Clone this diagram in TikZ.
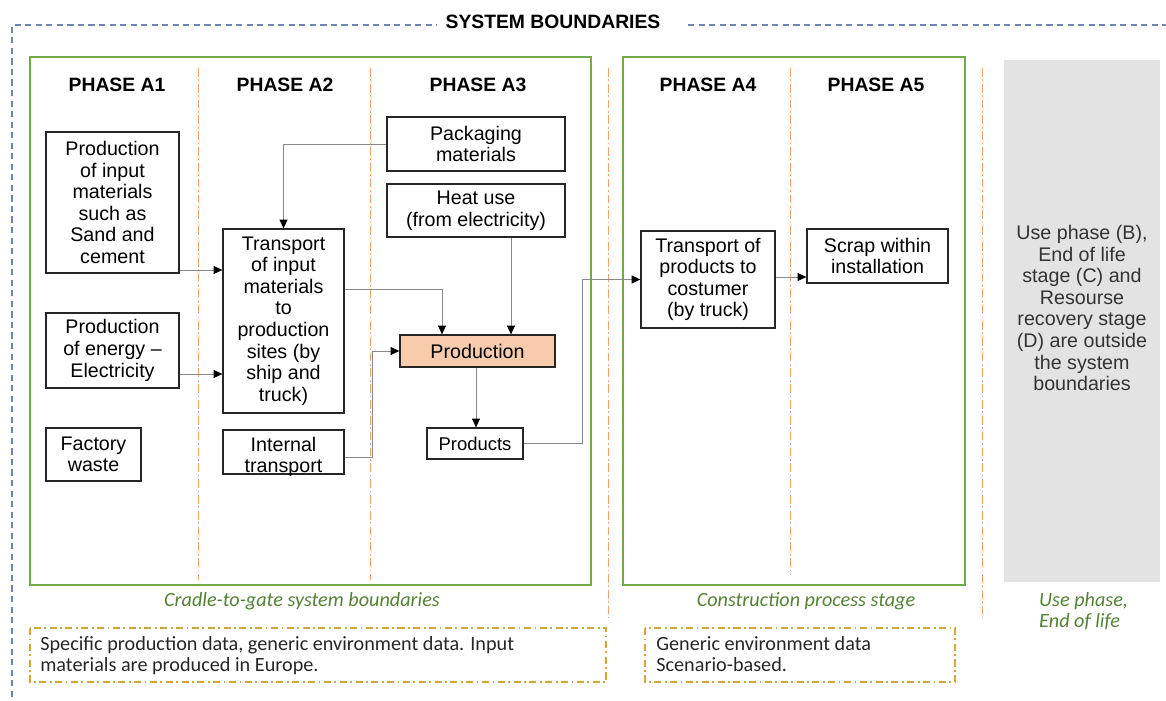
\documentclass[tikz,border=0pt]{standalone}
\usepackage{fontspec}
\setmainfont{Liberation Sans}
\newfontfamily\calib{Carlito}
\usetikzlibrary{arrows.meta}
\definecolor{gborder}{HTML}{70AD47}
\definecolor{gtext}{HTML}{548235}
\definecolor{odash}{HTML}{F4A26B}
\definecolor{bdash}{HTML}{6F86B5}
\definecolor{goldc}{HTML}{D4A637}
\definecolor{peach}{HTML}{F8CBAD}
\definecolor{greybg}{HTML}{E3E3E3}
\definecolor{lineg}{HTML}{8A8A8A}
\tikzset{
  x=0.02cm, y=-0.02cm,
  boxfont/.style={font=\fontsize{11.2}{12.3}\selectfont},
  box/.style={draw=black!85, line width=0.7pt, inner sep=0pt, align=center, boxfont},
  phase/.style={font=\fontsize{11}{13}\selectfont\bfseries},
  conn/.style={draw=lineg, line width=0.55pt, -{Triangle[color=black,length=5pt,width=4.5pt]}},
  sep/.style={draw=odash, line width=0.5pt, dash pattern=on 5pt off 1.5pt on 1pt off 1.5pt},
  greenbox/.style={draw=gborder, line width=1.2pt},
  captext/.style={font=\calib\itshape\fontsize{11.5}{12.2}\selectfont, text=gtext},
  notebox/.style={draw=goldc, line width=0.8pt, dash pattern=on 4pt off 2pt on 1pt off 2pt},
  notetext/.style={font=\calib\fontsize{11.5}{12}\selectfont, align=left, anchor=north west, inner sep=0pt, text=black!85}
}
\begin{document}
\begin{tikzpicture}
\useasboundingbox (0,0) rectangle (1166,700);
% outer system boundary
\draw[bdash, line width=0.7pt, dash pattern=on 3.5pt off 2.5pt] (12,697) -- (12,25) -- (437,25);
\draw[bdash, line width=0.7pt, dash pattern=on 3.5pt off 2.5pt] (688,25) -- (1166,25);
\node[font=\fontsize{11}{13}\selectfont\bfseries] (title) at (553,22) {SYSTEM BOUNDARIES};
% grey box
\fill[greybg] (1004,60) rectangle (1160,582);
% green frames
\draw[greenbox] (30,57) rectangle (591,585);
\draw[greenbox] (623,57) rectangle (965,585);
% separators
\draw[sep] (198,68) -- (198,580);
\draw[sep] (370,68) -- (370,580);
\draw[sep] (608,68) -- (608,618);
\draw[sep] (790,68) -- (790,575);
\draw[sep] (982,68) -- (982,618);
% phase titles
\node[phase] (pa1) at (117,85) {PHASE A1};
\node[phase] (pa2) at (285,85) {PHASE A2};
\node[phase] (pa3) at (478,85) {PHASE A3};
\node[phase] (pa4) at (708,85) {PHASE A4};
\node[phase] (pa5) at (876,85) {PHASE A5};
% boxes
\node[box, minimum width=133*0.02cm, minimum height=141*0.02cm] (pin) at (112.5,202.5)
  {Production\\of input\\materials\\such as\\Sand and\\cement};
\node[box, minimum width=133*0.02cm, minimum height=75*0.02cm] (pen) at (112.5,350.5)
  {Production\\of energy --\\Electricity};
\node[box, minimum width=95*0.02cm, minimum height=53*0.02cm] (fw) at (93.5,454.5)
  {Factory\\waste};
\node[box, minimum width=121*0.02cm, minimum height=184*0.02cm] (tin) at (283.5,321)
  {Transport\\of input\\materials\\to\\production\\sites (by\\ship and\\truck)};
\node[box, minimum width=121*0.02cm, minimum height=44*0.02cm,
  label={[boxfont, align=center, yshift=-0.1cm]center:Internal\\transport}] (itr) at (283.5,452) {};
\node[box, minimum width=178*0.02cm, minimum height=54*0.02cm] (pkg) at (476,144)
  {Packaging\\materials};
\node[box, minimum width=178*0.02cm, minimum height=53*0.02cm] (heat) at (476,210.5)
  {Heat use\\(from electricity)};
\node[box, fill=peach, minimum width=155*0.02cm, minimum height=32*0.02cm] (prod) at (477.5,351)
  {Production};
\node[box, minimum width=96*0.02cm, minimum height=31*0.02cm, font=\fontsize{10.5}{12}\selectfont] (prods) at (475,443.5)
  {Products};
\node[box, minimum width=134*0.02cm, minimum height=97*0.02cm] (tpr) at (708,279.5)
  {Transport of\\products to\\costumer\\(by truck)};
\node[box, minimum width=141*0.02cm, minimum height=54*0.02cm] (scrap) at (877.5,256)
  {Scrap within\\installation};
\node[align=center, text=black!80, font=\fontsize{11.2}{12.3}\selectfont] (outside) at (1082,308)
  {Use phase (B),\\End of life\\stage (C) and\\Resourse\\recovery stage\\(D) are outside\\the system\\boundaries};
% connectors
\draw[conn] (pin.east |- 0,270) -- (tin.west |- 0,270);
\draw[conn] (pen.east |- 0,374) -- (tin.west |- 0,374);
\draw[conn] (pkg.west) -| (tin.north);
\draw[conn] (tin.east |- 0,289) -| ([xshift=-0.71cm]prod.north);
\draw[conn] (heat.south -| 511,0) -- (prod.north -| 511,0);
\draw[conn] (itr.east |- 0,457) -- (372,457) |- (prod.west);
\draw[conn] (prod.south -| 476,0) -- (prods.north -| 476,0);
\draw[conn] (prods.east) -- (582,443.5) |- (tpr.west);
\draw[conn] (tpr.east |- 0,277) -- (scrap.west |- 0,277);
% captions
\node[captext] (c1) at (302,601) {Cradle-to-gate system boundaries};
\node[captext] (c2) at (806,601) {Construction process stage};
\node[captext, align=left, anchor=west] (c3) at (1033,611) {Use phase,\\End of life};
% notes
\draw[notebox] (30,628) rectangle (606,682);
\draw[notebox] (645,628) rectangle (955,682);
\node[notetext] (n1) at (40,636) {Specific production data, generic environment data. Input\\materials are produced in Europe.};
\node[notetext] (n2) at (656,636) {Generic environment data\\Scenario-based.};
\end{tikzpicture}
\end{document}
